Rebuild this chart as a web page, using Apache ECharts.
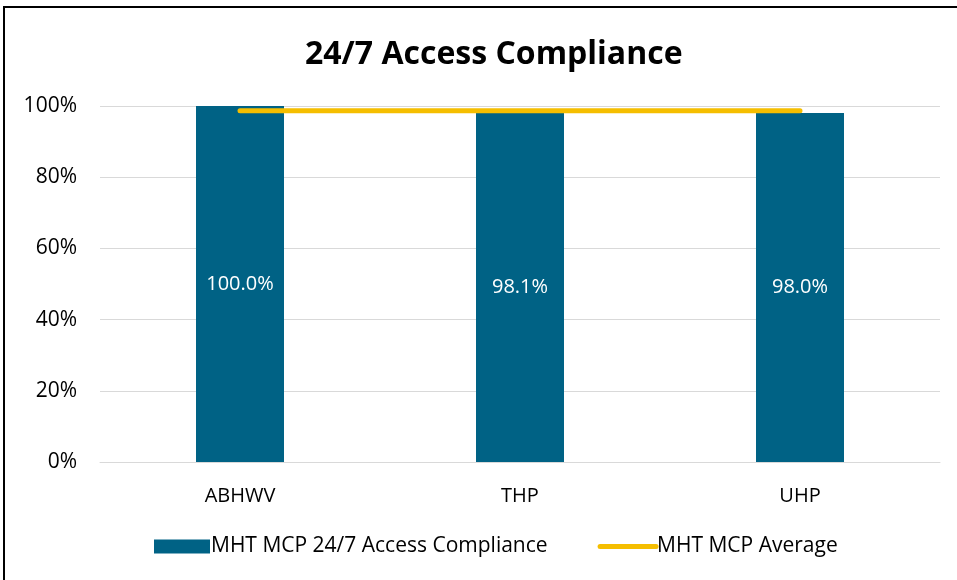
<!DOCTYPE html>
<html>
<head>
<meta charset="utf-8">
<script src="https://cdn.jsdelivr.net/npm/echarts@6/dist/echarts.min.js"></script>
<style>
  html, body { margin: 0; padding: 0; background: #fff; }
  #frame {
    position: absolute; left: 3px; top: 6px; width: 960px; height: 580px;
    border-left: 2px solid #000; border-top: 2px solid #000;
  }
  #chart { position: absolute; left: 0; top: 0; width: 957px; height: 580px; }
</style>
</head>
<body>
<div id="frame"></div>
<div id="chart"></div>
<script>
const categories = ['ABHWV', 'THP', 'UHP']
const compliance = [100.0, 98.1, 98.0]
const average = [98.7, 98.7, 98.7]
const yTicks = [0, 20, 40, 60, 80, 100]

const font = "'Open Sans', 'Liberation Sans', sans-serif"
const chart = echarts.init(document.getElementById('chart'))

chart.setOption({
  animation: false,
  title: {
    text: '24/7 Access Compliance',
    left: 300,
    top: 34,
    textStyle: { fontFamily: font, fontSize: 32, fontWeight: 'bold', color: '#000' }
  },
  grid: { left: 100, right: 17, top: 106, bottom: 118 },
  legend: {
    bottom: 18,
    left: 149,
    itemGap: 50,
    itemWidth: 56,
    itemHeight: 14,
    textStyle: { fontFamily: font, fontSize: 21, color: '#000', padding: [0, 0, 0, -4] },
    data: [
      { name: 'MHT MCP 24/7 Access Compliance', icon: 'rect' },
      { name: 'MHT MCP Average', itemStyle: { opacity: 0 }, lineStyle: { width: 5, cap: 'round' } }
    ]
  },
  xAxis: {
    type: 'category',
    data: categories,
    axisTick: { show: false },
    axisLine: { lineStyle: { color: '#d9d9d9' } },
    axisLabel: { fontFamily: font, fontSize: 20, color: '#000', margin: 24 }
  },
  yAxis: {
    type: 'value',
    min: yTicks[0],
    max: yTicks[yTicks.length - 1],
    interval: 20,
    axisLabel: { fontFamily: font, fontSize: 21, color: '#000', formatter: '{value}%', margin: 23 },
    splitLine: { lineStyle: { color: '#d9d9d9', width: 1 } }
  },
  series: [
    {
      name: 'MHT MCP 24/7 Access Compliance',
      type: 'bar',
      data: compliance,
      barWidth: 88,
      itemStyle: { color: '#006285' },
      label: {
        show: true,
        position: 'inside',
        color: '#fff',
        fontFamily: font,
        fontSize: 20,
        formatter: (p) => p.value.toFixed(1) + '%'
      },
      z: 2
    },
    {
      name: 'MHT MCP Average',
      type: 'line',
      data: average,
      symbol: 'none',
      lineStyle: { color: '#F5BE00', width: 5, cap: 'round' },
      itemStyle: { color: '#F5BE00' },
      z: 3
    }
  ]
})
</script>
</body>
</html>
